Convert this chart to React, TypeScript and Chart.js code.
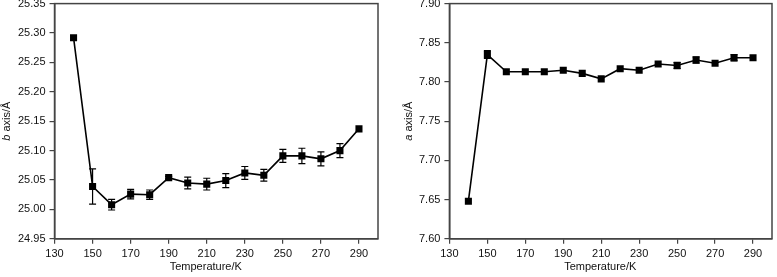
import React, { useEffect, useRef } from "react";
import { Chart, registerables } from "chart.js";

Chart.register(...registerables);

const temperatures = [140, 150, 160, 170, 180, 190, 200, 210, 220, 230, 240, 250, 260, 270, 280, 290];
const bAxis = [25.292, 25.039, 25.008, 25.026, 25.025, 25.054, 25.045, 25.043, 25.049, 25.062, 25.058, 25.091, 25.091, 25.086, 25.1, 25.137];
const bErr = [0, 0.03, 0.009, 0.008, 0.008, 0.002, 0.01, 0.01, 0.012, 0.011, 0.01, 0.011, 0.013, 0.012, 0.012, 0];
const aAxis = [7.648, 7.835, 7.813, 7.813, 7.813, 7.815, 7.811, 7.804, 7.817, 7.815, 7.823, 7.821, 7.828, 7.824, 7.831, 7.831];
const aErr = [0, 0.005, 0, 0, 0, 0, 0, 0, 0, 0, 0, 0.004, 0.004, 0, 0.004, 0];
const xTicks = [130, 150, 170, 190, 210, 230, 250, 270, 290];
const bTicks = [24.95, 25.0, 25.05, 25.1, 25.15, 25.2, 25.25, 25.3, 25.35];
const aTicks = [7.6, 7.65, 7.7, 7.75, 7.8, 7.85, 7.9];

const FONT = "'Liberation Sans', Arial, sans-serif";
const AXIS_COLOR = "#444";
const TEXT_COLOR = "#111";
const SHIFT = 7;

type PanelProps = {
  values: number[];
  errors: number[];
  yTicks: number[];
  italic: string;
  rest: string;
  width: number;
  height: number;
  padLeft: number;
  padRight: number;
  titleX: number;
};

function Panel({ values, errors, yTicks, italic, rest, width, height, padLeft, padRight, titleX }: PanelProps) {
  const ref = useRef<HTMLCanvasElement | null>(null);
  useEffect(() => {
    if (!ref.current) return;
    const errPlugin = {
      id: "errbars",
      afterDatasetsDraw(chart: any) {
        const ctx = chart.ctx;
        const xs = chart.scales.x;
        const ys = chart.scales.y;
        ctx.save();
        ctx.strokeStyle = "#000";
        ctx.lineWidth = 1.2;
        values.forEach((v, i) => {
          const e = errors[i];
          if (!e) return;
          const x = xs.getPixelForValue(temperatures[i]);
          const y1 = ys.getPixelForValue(v + e);
          const y2 = ys.getPixelForValue(v - e);
          ctx.beginPath();
          ctx.moveTo(x, y1);
          ctx.lineTo(x, y2);
          ctx.moveTo(x - 3.5, y1);
          ctx.lineTo(x + 3.5, y1);
          ctx.moveTo(x - 3.5, y2);
          ctx.lineTo(x + 3.5, y2);
          ctx.stroke();
        });
        ctx.restore();
      },
    };
    const framePlugin = {
      id: "frame",
      afterDraw(chart: any) {
        const ctx = chart.ctx;
        const a = chart.chartArea;
        ctx.save();
        ctx.strokeStyle = AXIS_COLOR;
        ctx.lineWidth = 1.5;
        ctx.strokeRect(a.left, a.top, a.right - a.left, a.bottom - a.top);
        // x title
        ctx.fillStyle = TEXT_COLOR;
        ctx.textBaseline = "middle";
        ctx.textAlign = "center";
        ctx.font = `11px ${FONT}`;
        ctx.fillText("Temperature/K", chart.scales.x.getPixelForValue(209.5), 267 + SHIFT);
        // y title with italic part
        const cy = (a.top + a.bottom) / 2;
        ctx.translate(titleX, cy);
        ctx.rotate(-Math.PI / 2);
        ctx.font = `italic 11px ${FONT}`;
        const w1 = ctx.measureText(italic).width;
        ctx.font = `11px ${FONT}`;
        const w2 = ctx.measureText(rest).width;
        const start = -(w1 + w2) / 2;
        ctx.textAlign = "left";
        ctx.font = `italic 11px ${FONT}`;
        ctx.fillText(italic, start, 0);
        ctx.font = `11px ${FONT}`;
        ctx.fillText(rest, start + w1, 0);
        ctx.restore();
      },
    };
    const chart = new Chart(ref.current, {
      type: "line",
      data: {
        datasets: [
          {
            data: temperatures.map((t, i) => ({ x: t, y: values[i] })),
            borderColor: "#000",
            backgroundColor: "#000",
            borderWidth: 1.6,
            pointStyle: "rect",
            pointRadius: 5,
            pointBackgroundColor: "#000",
            pointBorderWidth: 0,
            tension: 0,
          },
        ],
      },
      options: {
        responsive: false,
        animation: false,
        events: [],
        layout: { padding: { left: padLeft, right: padRight, top: 0, bottom: 12 } },
        plugins: { legend: { display: false }, tooltip: { enabled: false } },
        scales: {
          x: {
            type: "linear",
            min: 130,
            max: 300,
            afterBuildTicks: (s: any) => {
              s.ticks = xTicks.map((v) => ({ value: v }));
            },
            ticks: {
              color: TEXT_COLOR,
              font: { family: FONT, size: 11 },
              padding: 4,
              maxRotation: 0,
              autoSkip: false,
            },
            grid: { display: true, drawOnChartArea: false, drawTicks: true, tickLength: 5, color: AXIS_COLOR, lineWidth: 1.2 },
            border: { display: true, color: AXIS_COLOR, width: 1.5 },
          },
          y: {
            type: "linear",
            min: yTicks[0],
            max: yTicks[yTicks.length - 1],
            afterBuildTicks: (s: any) => {
              s.ticks = yTicks.map((v) => ({ value: v }));
            },
            ticks: {
              color: TEXT_COLOR,
              font: { family: FONT, size: 11 },
              padding: 4,
              callback: (v: any) => Number(v).toFixed(2),
            },
            grid: { display: true, drawOnChartArea: false, drawTicks: true, tickLength: 5, color: AXIS_COLOR, lineWidth: 1.2 },
            border: { display: true, color: AXIS_COLOR, width: 1.5 },
          },
        },
      },
      plugins: [errPlugin, framePlugin],
    });
    return () => chart.destroy();
  }, []);
  return <canvas ref={ref} width={width} height={height} style={{ display: "block", width, height }} />;
}

export default function App() {
  return (
    <div style={{ position: "fixed", left: 0, top: 0, width: 777, height: 277, background: "#fff", overflow: "hidden" }}>
      <div style={{ position: "absolute", left: 0, top: -SHIFT }}>
        <Panel values={bAxis} errors={bErr} yTicks={bTicks} italic="b" rest=" axis/Å" width={383} height={277 + SHIFT} padLeft={14} padRight={2} titleX={7} />
      </div>
      <div style={{ position: "absolute", left: 392, top: -SHIFT }}>
        <Panel values={aAxis} errors={aErr} yTicks={aTicks} italic="a" rest=" axis/Å" width={385} height={277 + SHIFT} padLeft={23} padRight={1} titleX={17} />
      </div>
    </div>
  );
}
